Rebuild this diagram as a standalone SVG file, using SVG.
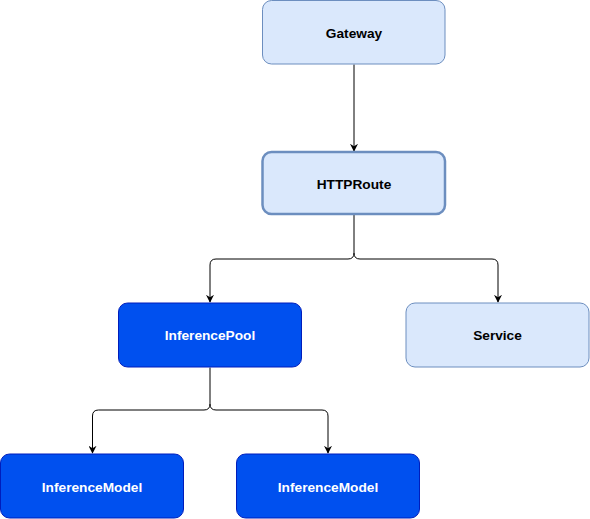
<svg xmlns="http://www.w3.org/2000/svg" width="590" height="519" viewBox="0 0 590 519">
<style>
.light{fill:#dae8fc;stroke:#6c8ebf;stroke-width:1}
.thick{stroke-width:2.5}
.dark{fill:#0050ef;stroke:#001dbc;stroke-width:1}
.lbl{font-family:"Liberation Sans",Arial,sans-serif;font-weight:bold;font-size:13.7px;text-anchor:middle;dominant-baseline:central}
.lt{fill:#000000}
.dt{fill:#ffffff}
.edge{fill:none;stroke:#000000;stroke-width:1}
</style>
<defs>
<marker id="arr" viewBox="0 0 10 10" refX="9" refY="5" markerWidth="8" markerHeight="8" markerUnits="userSpaceOnUse" orient="auto">
<path d="M0,0 L10,5 L0,10 L3,5 Z" fill="#000000"/>
</marker>
</defs>
<g id="connectors">
<path class="edge" d="M354,64.5 V151" marker-end="url(#arr)"/>
<path class="edge" d="M354,215 V253 Q354,259 348,259 H216 Q210,259 210,265 V302" marker-end="url(#arr)"/>
<path class="edge" d="M354,253 Q354,259 360,259 H492 Q498,259 498,265 V302" marker-end="url(#arr)"/>
<path class="edge" d="M210,367.5 V404 Q210,410 204,410 H98.5 Q92.5,410 92.5,416 V453" marker-end="url(#arr)"/>
<path class="edge" d="M210,404 Q210,410 216,410 H322 Q328,410 328,416 V453" marker-end="url(#arr)"/>
</g>
<g id="gateway">
<rect class="light" x="262.5" y="0.5" width="182.5" height="63.5" rx="9" ry="9"/>
<text class="lbl lt" x="354" y="33">Gateway</text>
</g>
<g id="httproute">
<rect class="light thick" x="262.5" y="152" width="182.5" height="62" rx="9" ry="9"/>
<text class="lbl lt" x="354" y="184">HTTPRoute</text>
</g>
<g id="inferencepool">
<rect class="dark" x="118.5" y="303" width="183" height="64" rx="9" ry="9"/>
<text class="lbl dt" x="210" y="335">InferencePool</text>
</g>
<g id="service">
<rect class="light" x="406" y="303" width="183" height="64" rx="9" ry="9"/>
<text class="lbl lt" x="497.5" y="335">Service</text>
</g>
<g id="inferencemodel1">
<rect class="dark" x="0.5" y="454" width="183" height="64" rx="9" ry="9"/>
<text class="lbl dt" x="92" y="487">InferenceModel</text>
</g>
<g id="inferencemodel2">
<rect class="dark" x="236.5" y="454" width="183" height="64" rx="9" ry="9"/>
<text class="lbl dt" x="328" y="487">InferenceModel</text>
</g>
</svg>
